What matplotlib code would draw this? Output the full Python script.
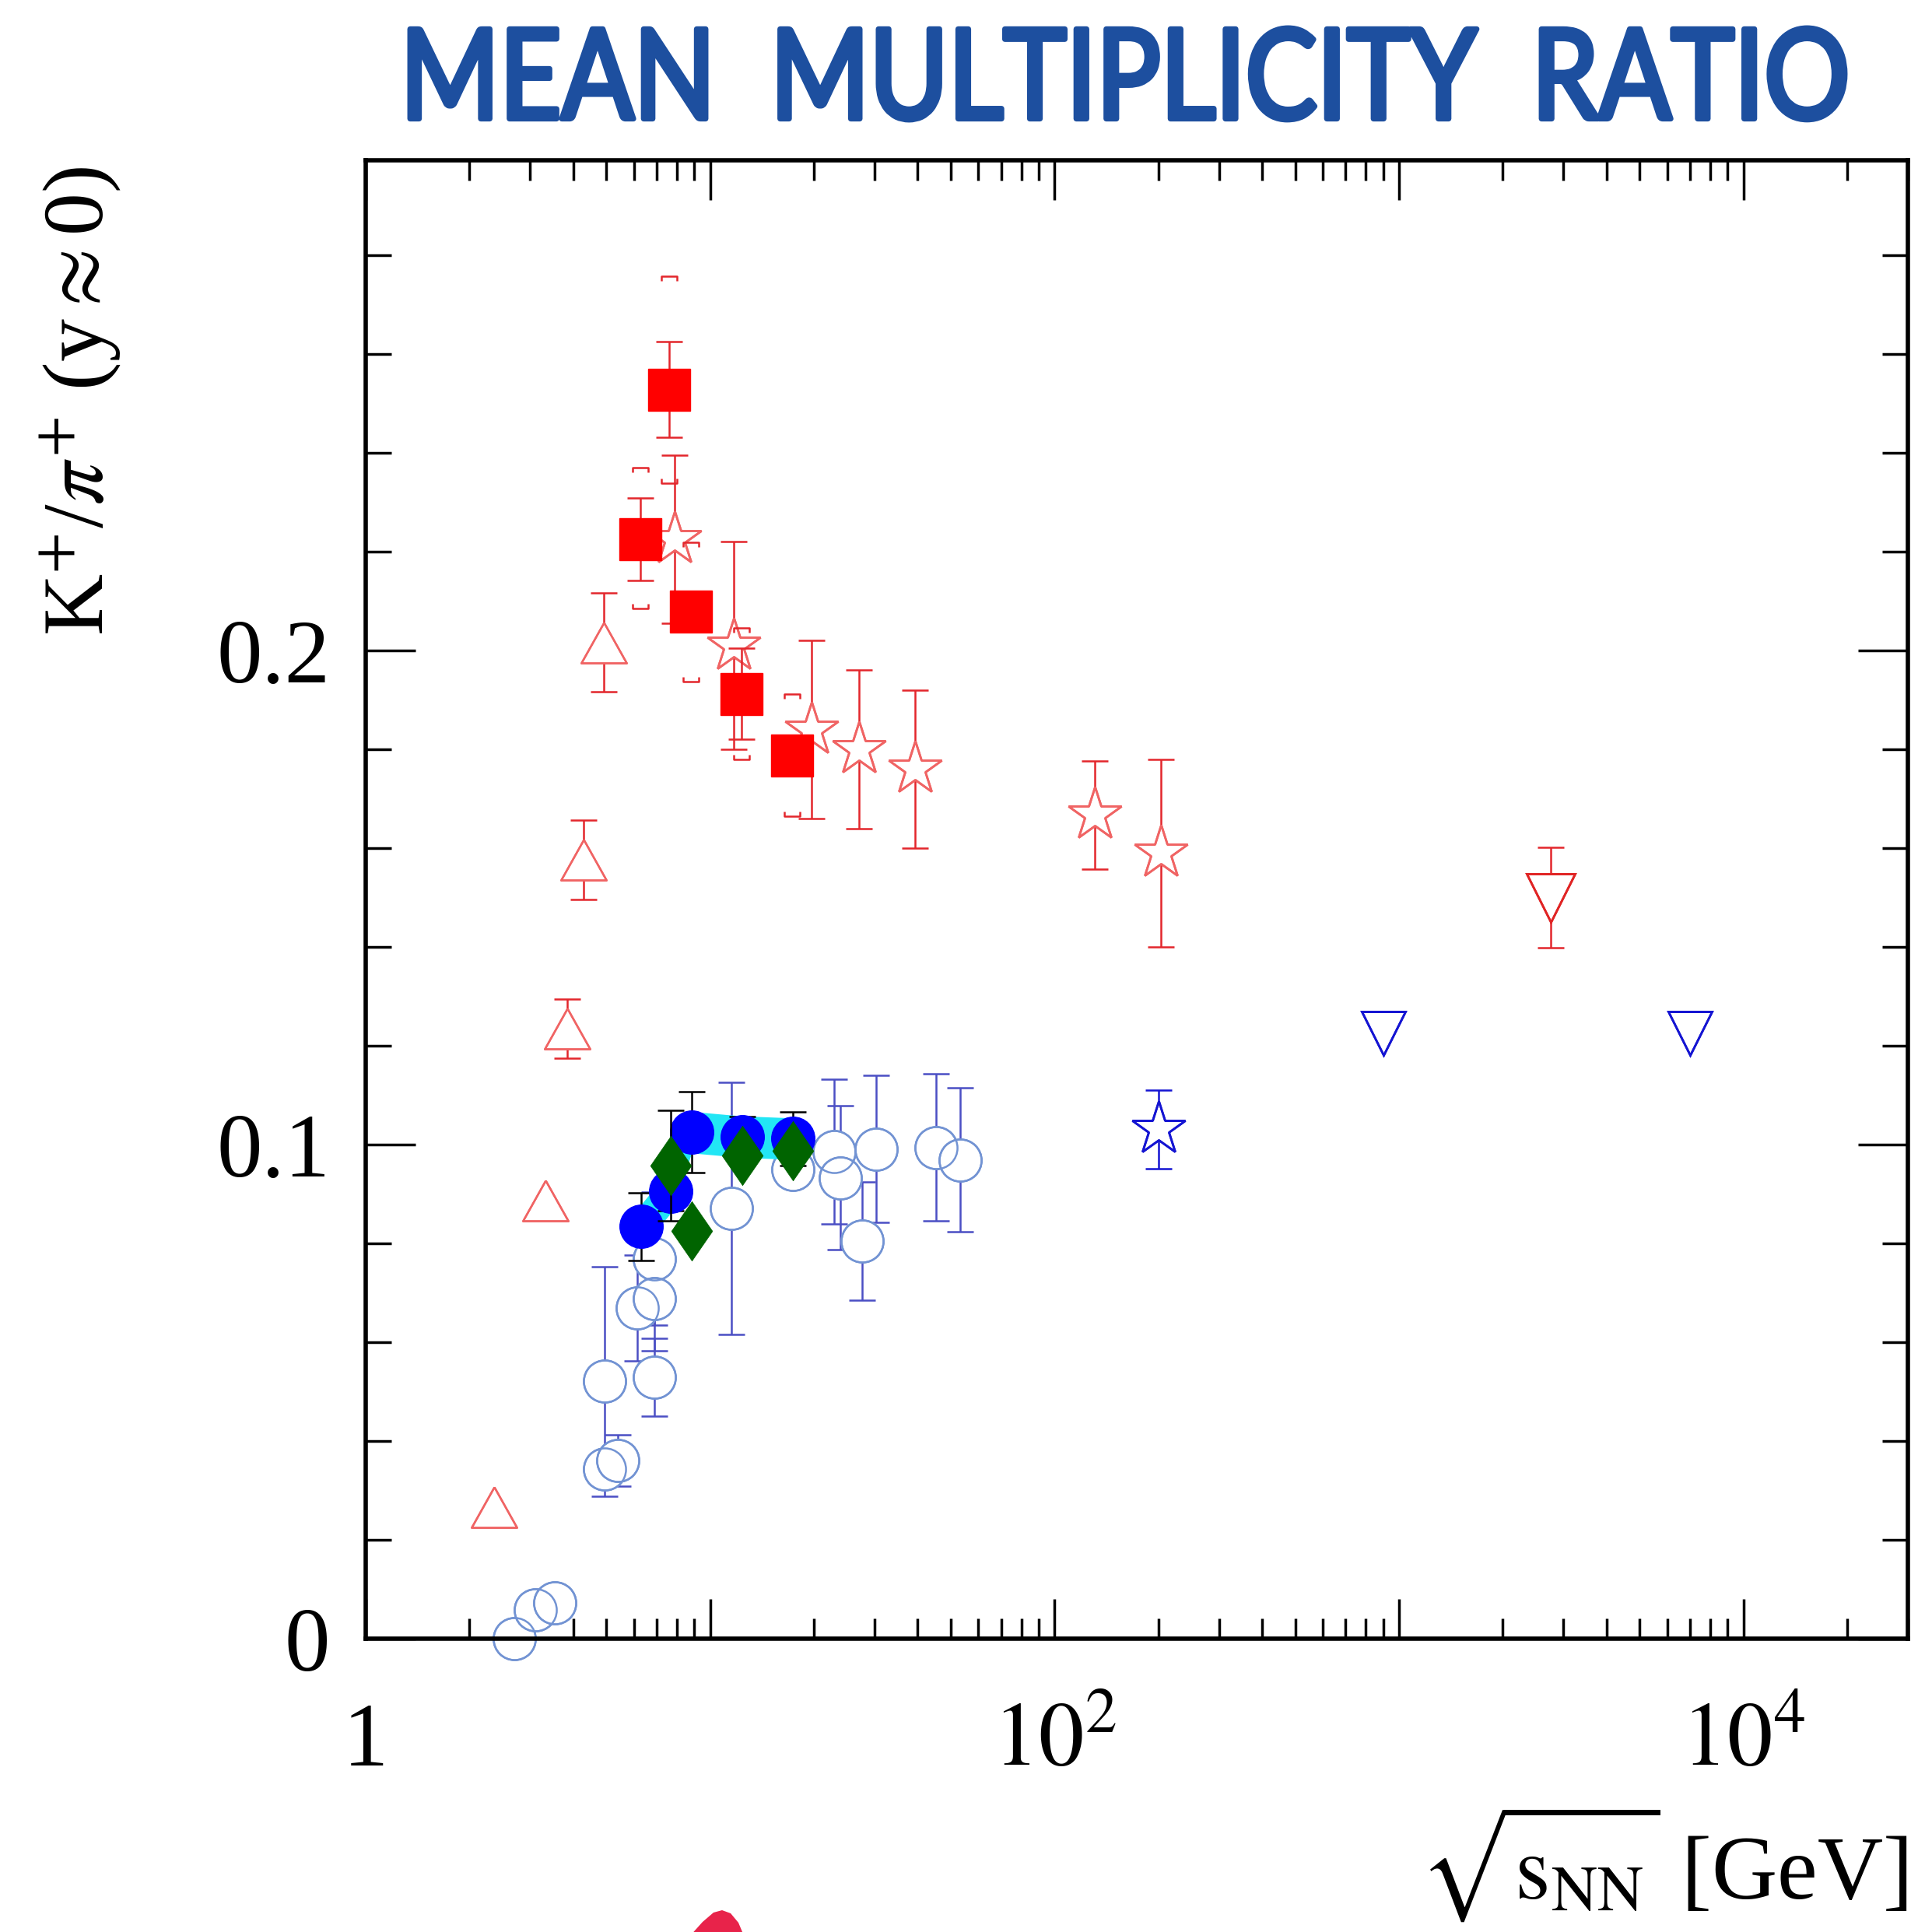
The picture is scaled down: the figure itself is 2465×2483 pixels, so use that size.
import numpy as np
import matplotlib
matplotlib.use('Agg')
import matplotlib.pyplot as plt
from matplotlib.path import Path
from matplotlib.patches import PathPatch, Polygon
from matplotlib.textpath import TextPath
from matplotlib.font_manager import FontProperties
from matplotlib.transforms import Affine2D, blended_transform_factory
from matplotlib.ticker import LogLocator, MultipleLocator, NullFormatter

plt.rcParams.update({
    'font.family': ['Liberation Serif', 'DejaVu Serif'],
    'mathtext.fontset': 'stix',
    'font.size': 84,
})

# ---------- data ----------
# AGS Au+Au, open red triangles
ags_x = [2.36, 3.33, 3.84, 4.30, 4.91]
ags_y = [0.0266, 0.0886, 0.1235, 0.1576, 0.2016]
ags_err = [0.0, 0.0, 0.006, 0.008, 0.010]

# NA49 Pb+Pb, filled red squares (stat + syst brackets)
na49_x = [6.27, 7.62, 8.77, 12.3, 17.3]
na49_y = [0.2225, 0.2528, 0.2079, 0.1912, 0.1788]
na49_stat = [0.0084, 0.0097, 0.004, 0.0092, 0.004]
na49_sys_lo = [0.0140, 0.0190, 0.0142, 0.0132, 0.0123]
na49_sys_hi = [0.0145, 0.0230, 0.0140, 0.0133, 0.0124]

# RHIC Au+Au, open red stars
star_x = [7.9, 11.7, 19.7, 27.1, 39.3, 131, 204]
star_y = [0.2225, 0.2010, 0.1840, 0.1800, 0.1760, 0.1667, 0.1590]
star_err = [0.017, 0.021, 0.018, 0.016, 0.016, 0.011, 0.019]

# LHC Pb+Pb, open red down triangle
alice_aa_x = [2760]
alice_aa_y = [0.1500]
alice_aa_err = [0.0102]

# p+p world data, open blue circles
pp_x = [2.7, 3.1, 3.53, 4.94, 4.94, 5.39, 6.14, 6.9, 6.9, 6.9,
        11.5, 17.4, 22.9, 23.9, 27.6, 30.3, 45.2, 53.1]
pp_y = [0.0, 0.0058, 0.0072, 0.0521, 0.0344, 0.0361, 0.0670, 0.0769, 0.0689, 0.0529,
        0.0871, 0.0950, 0.0986, 0.0933, 0.0805, 0.0991, 0.0994, 0.0969]
pp_err = [0, 0, 0, 0.0232, 0, 0.0052, 0.0107, 0.0135, 0.0106, 0.0079,
          0.0255, 0, 0.0147, 0.0146, 0.0120, 0.0149, 0.0149, 0.0146]

# NA61 p+p, filled blue circles with cyan syst band
na61_x = [6.3, 7.67, 8.83, 12.37, 17.38]
na61_y = [0.0834, 0.0906, 0.1025, 0.1016, 0.1012]
na61_stat = [0.0068, 0.004, 0.0082, 0.004, 0.0054]
na61_sys = [0.0045, 0.0045, 0.0042, 0.0042, 0.0042]

# green diamonds
dia_x = [7.67, 8.83, 12.37, 17.38]
dia_y = [0.0958, 0.0826, 0.0978, 0.0987]
dia_err = [0.0112, 0, 0, 0]

# STAR p+p (blue star), ALICE p+p (blue down triangles)
star_pp_x = [200]
star_pp_y = [0.1031]
star_pp_err = [0.0079]
alice_pp_x = [900, 7000]
alice_pp_y = [0.1226, 0.1226]

# ---------- colours ----------
RED = '#ff0000'
RED_ERR = '#e3262c'
RED_OPEN = '#f06464'
BLUE_OPEN = '#7293d3'
BLUE_ERR = '#4b4fc4'
BLUE = '#0000ff'
BLUE_DARK = '#1414d2'
CYAN = '#22e6f5'
GREEN = '#006400'
TITLE_BLUE = '#1d4f9f'


def err(ax, x, y, e, color, z, lw=1.8, cap=12):
    x, y, e = np.asarray(x, float), np.asarray(y, float), np.asarray(e, float)
    m = e > 0
    if m.any():
        ax.errorbar(x[m], y[m], yerr=e[m], fmt='none', ecolor=color,
                    elinewidth=lw, capsize=cap, capthick=lw, zorder=z)


def hollow(ax, x, y, marker, ms, color, z, mew=1.6):
    # white face hides the error line inside, then outlines on top
    ax.plot(x, y, ls='none', marker=marker, ms=ms, mfc='white', mec=color, mew=mew,
            zorder=z, clip_on=False)
    ax.plot(x, y, ls='none', marker=marker, ms=ms, mfc='none', mec=color, mew=mew,
            zorder=z + 0.1, clip_on=False)


tri_up = [(0, 0.5), (-0.56, -0.5), (0.56, -0.5), (0, 0.5)]
diamond = [(0, 1), (0.69, 0), (0, -1), (-0.69, 0), (0, 1)]
br_top = Path([(-1, -0.6), (-1, 0), (1, 0), (1, -0.6)],
              [Path.MOVETO, Path.LINETO, Path.LINETO, Path.LINETO])
br_bot = Path([(-1, 0.6), (-1, 0), (1, 0), (1, 0.6)],
              [Path.MOVETO, Path.LINETO, Path.LINETO, Path.LINETO])

fig = plt.figure(figsize=(24.65, 24.83), dpi=100)
ax = fig.add_axes([0.1907, 0.1518, 0.8040, 0.7652])
ax.set_xscale('log')
ax.set_xlim(1, 3.0e4)
ax.set_ylim(0, 0.2992)

# p+p open circles (lowest layer)
err(ax, pp_x, pp_y, pp_err, BLUE_ERR, 2)
hollow(ax, pp_x, pp_y, 'o', 39, BLUE_OPEN, 3, mew=1.8)

# NA61 band + filled circles + diamonds
ax.fill_between(na61_x, np.array(na61_y) - na61_sys, np.array(na61_y) + na61_sys,
                color=CYAN, lw=0, zorder=4)
err(ax, na61_x, na61_y, na61_stat, 'black', 5)
ax.plot(na61_x, na61_y, ls='none', marker='o', ms=40, mfc=BLUE, mec=BLUE, zorder=6)
err(ax, dia_x, dia_y, dia_err, 'black', 6.5)
ax.plot(dia_x, dia_y, ls='none', marker=diamond, ms=55, mfc=GREEN, mec=GREEN, mew=0.5, zorder=7)

# red open triangles (AGS)
err(ax, ags_x, ags_y, ags_err, RED_ERR, 8)
hollow(ax, ags_x, ags_y, tri_up, 42, RED_OPEN, 9, mew=1.8)

# red open stars
err(ax, star_x, star_y, star_err, RED_ERR, 10)
hollow(ax, star_x, star_y, '*', 52, RED_OPEN, 11, mew=2.0)

# NA49 squares with syst brackets
err(ax, na49_x, na49_y, na49_stat, RED_ERR, 12)
ax.plot(na49_x, np.array(na49_y) + na49_sys_hi, ls='none', marker=br_top, ms=14,
        mfc='none', mec=RED_ERR, mew=1.8, zorder=12)
ax.plot(na49_x, np.array(na49_y) - na49_sys_lo, ls='none', marker=br_bot, ms=14,
        mfc='none', mec=RED_ERR, mew=1.8, zorder=12)
ax.plot(na49_x, na49_y, ls='none', marker='s', ms=39, mfc=RED, mec=RED, zorder=13)

# LHC / RHIC points
err(ax, alice_aa_x, alice_aa_y, alice_aa_err, RED_ERR, 10)
hollow(ax, alice_aa_x, alice_aa_y, 'v', 45, '#e02424', 11, mew=2.0)
err(ax, star_pp_x, star_pp_y, star_pp_err, BLUE_DARK, 10)
hollow(ax, star_pp_x, star_pp_y, '*', 52, BLUE_DARK, 11, mew=2.0)
hollow(ax, alice_pp_x, alice_pp_y, 'v', 41, BLUE_DARK, 11, mew=2.0)

# ---------- axes styling ----------
for sp in ax.spines.values():
    sp.set_linewidth(4)
    sp.set_zorder(20)
ax.set_xticks([1, 10, 100, 1000, 1e4])
ax.xaxis.set_minor_locator(LogLocator(base=10, subs=np.arange(2, 10), numticks=20))
ax.xaxis.set_minor_formatter(NullFormatter())
ax.set_xticklabels([])
ax.set_yticks([0, 0.1, 0.2])
ax.set_yticklabels(['0', '0.1', '0.2'])
ax.yaxis.set_minor_locator(MultipleLocator(0.02))
ax.tick_params(which='both', direction='in', top=True, right=True, width=2.5, color='black')
ax.tick_params(axis='x', which='major', length=37)
ax.tick_params(axis='x', which='minor', length=19)
ax.tick_params(axis='y', which='major', length=46, pad=33, labelsize=84)
ax.tick_params(axis='y', which='minor', length=23.5)

xt = blended_transform_factory(ax.transData, ax.transAxes)
for xv, lab in zip([1, 100, 1e4], ['1', r'$10^{2}$', r'$10^{4}$']):
    ax.text(xv, -0.0858, lab, transform=xt, ha='center', va='baseline', fontsize=84)

ax.text(1.0, -0.1758, r'$\sqrt{\mathrm{s}_{\mathrm{NN}}}$ [GeV]', transform=ax.transAxes,
        ha='right', va='baseline', fontsize=84)
ax.text(-0.185, 0.996, r'K$^{+}$/$\pi^{+}$ (y$\approx$0)', transform=ax.transAxes,
        rotation=90, ha='center', va='top', fontsize=79)

# ---------- handwritten-style title ----------
title = 'MEAN  MULTIPLICITY  RATIO'
tp = TextPath((0, 0), title, size=1, prop=FontProperties(family='Lato', weight='normal'))
ext = tp.get_extents()
x0, x1 = 527 / 2465, 2371 / 2465
y0, y1 = 1 - 154 / 2483, 1 - 36 / 2483
tr = (Affine2D().translate(-ext.x0, -ext.y0)
      .scale((x1 - x0) / ext.width, (y1 - y0) / ext.height)
      .translate(x0, y0))
fig.add_artist(PathPatch(tr.transform_path(tp), transform=fig.transFigure,
                         facecolor=TITLE_BLUE, edgecolor=TITLE_BLUE, lw=5, joinstyle='round'))

# red pen stroke cut at the bottom edge
blob_px = [(885, 2490), (903, 2470), (917, 2458), (928, 2455), (939, 2459), (949, 2471), (957, 2490)]
fig.add_artist(Polygon([(px / 2465, 1 - py / 2483) for px, py in blob_px], closed=True,
                       transform=fig.transFigure, facecolor='#e8234a', edgecolor='none'))

fig.savefig('out.png', dpi=100)
